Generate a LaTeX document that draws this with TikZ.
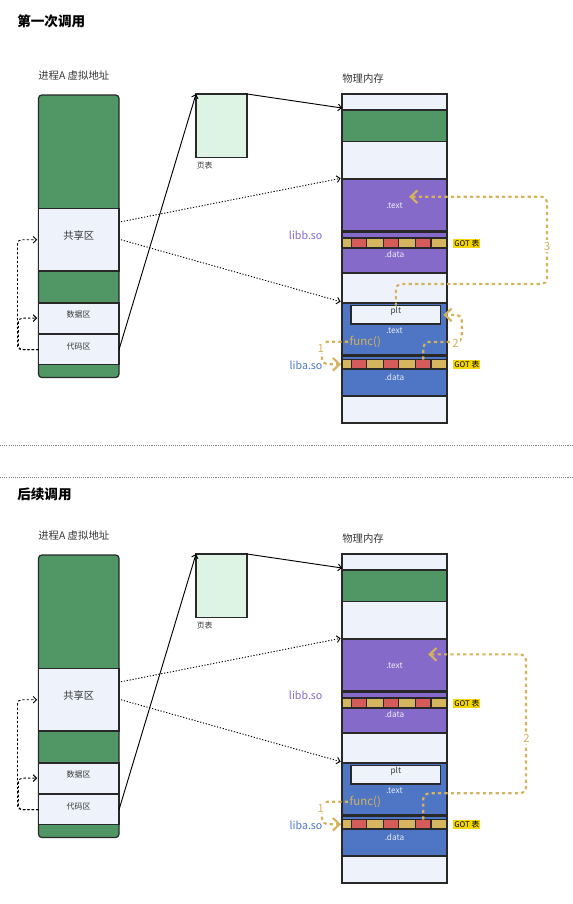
\documentclass[tikz,border=0pt]{standalone}
\usepackage{fontspec}
\setmainfont{Noto Sans CJK SC}
\usetikzlibrary{arrows.meta,fit}
\definecolor{pgreen}{RGB}{80,151,101}
\definecolor{plight}{RGB}{238,243,251}
\definecolor{ppurple}{RGB}{134,106,201}
\definecolor{pblue}{RGB}{78,118,196}
\definecolor{gyel}{RGB}{213,182,94}
\definecolor{gred}{RGB}{214,92,92}
\definecolor{goldc}{RGB}{214,178,92}
\definecolor{gotbg}{RGB}{244,214,0}
\definecolor{ptab}{RGB}{221,244,228}
\definecolor{edgec}{RGB}{40,40,40}
\definecolor{txtg}{RGB}{55,55,55}
\definecolor{seclab}{RGB}{235,238,248}

\tikzset{
  seg/.style={draw=edgec, line width=0.9pt, inner sep=0pt, outer sep=0pt},
  plainlab/.style={inner sep=0pt, text=txtg},
  seclabel/.style={inner sep=0pt, text=seclab, font=\fontsize{6.2pt}{7pt}\selectfont},
  gotlab/.style={fill=gotbg, text=black, inner sep=0.8pt, font=\fontsize{5.8pt}{7pt}\selectfont, anchor=west},
  numlab/.style={fill=white, text=goldc, inner sep=1pt, font=\fontsize{8.5pt}{9pt}\selectfont},
  solidarrow/.style={draw=black, line width=0.7pt, -{Straight Barb[length=2.5pt,width=5pt]}},
  dotarrow/.style={draw=black, line width=0.7pt, dash pattern=on 0.9pt off 1.3pt, -{Straight Barb[length=2.5pt,width=5pt]}},
  dasharrow/.style={draw=black, line width=0.7pt, dash pattern=on 1.8pt off 1.5pt, rounded corners=3pt, -{Straight Barb[length=2.5pt,width=5pt]}, shorten >=1pt},
  goldarrow/.style={draw=goldc, line width=1.6pt, dash pattern=on 2.4pt off 2.4pt, rounded corners=4pt, -{Straight Barb[length=5pt,width=9.5pt,line width=1.6pt]}},
  sepline/.style={draw=gray, line width=0.6pt, dash pattern=on 0.8pt off 0.8pt},
}

\newcommand\gotrow[3]{%
  \foreach \xa/\xb/\cc/\ii in {342/351.5/gyel/1,351.5/366.3/gred/2,366.3/383.3/gyel/3,383.3/398.5/gred/4,398.5/415.5/gyel/5,415.5/431/gred/6,431/447/gyel/7}
    {\node[seg, fill=\cc, line width=0.8pt, fit={(\xa,#2)(\xb,#3)}] (#1c\ii) {};}
  \node[inner sep=0pt, fit={(342,#2)(447,#3)}] (#1) {};
}

\newcommand\CommonPart{%
  % virtual address column
  \node[plainlab, anchor=west, font=\fontsize{7.8pt}{9pt}\selectfont] (vtitle) at (38,76) {进程A 虚拟地址};
  \node[seg, fill=pgreen, rounded corners=2.5pt, fit={(38.5,95)(119,377.5)}] (vcol) {};
  \node[seg, fill=plight, text=txtg, font=\fontsize{7.7pt}{9pt}\selectfont, fit={(38.5,208.5)(119,271)}] (shared) {共享区};
  \node[seg, fill=plight, text=txtg, font=\fontsize{6pt}{7pt}\selectfont, fit={(38.5,303)(119,333.2)}] (datab) {数据区};
  \node[seg, fill=plight, text=txtg, font=\fontsize{6pt}{7pt}\selectfont, fit={(38.5,334.6)(119,364.8)}] (codeb) {代码区};
  % page table
  \node[seg, fill=ptab, fit={(196,94)(247,157.5)}] (ptab) {};
  \node[plainlab, anchor=west, font=\fontsize{5.9pt}{7pt}\selectfont] (ptlabel) at (196.5,165.5) {页表};
  % physical memory column
  \node[plainlab, anchor=west, font=\fontsize{7.8pt}{9pt}\selectfont] (ptitle) at (342,79) {物理内存};
  \node[seg, fill=plight, fit={(342,94)(447,423)}] (pcol) {};
  \node[seg, fill=pgreen, fit={(342,110)(447,141.5)}] (pgreen) {};
  \node[seg, fill=ppurple, fit={(342,179)(447,231)}] (btext) {};
  \node[seclabel] (btextl) at (394.5,206) {.text};
  \node[seg, fill=ppurple, fit={(342,232.6)(447,273)}] (bdata) {};
  \gotrow{bgot}{238}{248}
  \node[seclabel] (bdatal) at (394.5,254) {.data};
  \node[seg, fill=pblue, fit={(342,303)(447,354.4)}] (atext) {};
  \node[seg, fill=plight, line width=1pt, text=txtg, font=\fontsize{6.2pt}{7pt}\selectfont, fit={(351,305.7)(440.7,324)}] (plt) {plt};
  \node[seclabel] (atextl) at (394.5,330.5) {.text};
  \node[seg, fill=pblue, fit={(342,356)(447,396)}] (adata) {};
  \gotrow{agot}{359.5}{369}
  \node[seclabel] (adatal) at (394.5,377) {.data};
  % labels
  \node[gotlab] (bgotl) at (453,243.5) {GOT 表};
  \node[gotlab] (agotl) at (453,364.5) {GOT 表};
  \node[inner sep=0pt, anchor=east, text=ppurple, font=\fontsize{8pt}{9pt}\selectfont] (libb) at (322.7,235) {libb.so};
  % connectors
  \draw[solidarrow] (codeb.east) -- (ptab.north west);
  \draw[solidarrow] (ptab.north east) -- ([yshift=1.5pt]pgreen.north west);
  \draw[dotarrow] ([xshift=1.5pt,yshift=13.5pt]shared.east) -- ([xshift=-1pt,yshift=0.5pt]btext.north west);
  \draw[dotarrow] ([xshift=1.5pt]shared.east) -- ([xshift=-1pt,yshift=1pt]atext.north west);
  \draw[dasharrow] (codeb.west) -- ++(-21,0) |- (shared.west);
  \draw[dasharrow] (codeb.west) -- ++(-20,0) |- (datab.west);
  % call 1
  \node[inner sep=1pt, anchor=west, text=goldc, font=\fontsize{8.6pt}{9pt}\selectfont] (func) at (348,341.7) {func()};
  \draw[goldarrow] (func.west) -- ++(-26,0) |- ([xshift=-0.5pt]agot.west);
  \node[numlab] (n1) at (320.7,348) {1};
  \node[inner sep=0pt, anchor=east, text=pblue, font=\fontsize{8pt}{9pt}\selectfont] (liba) at (322.7,365) {liba.so};
}

\begin{document}
\begin{tikzpicture}[x=0.75pt,y=-0.75pt]
  \useasboundingbox (0,0) rectangle (573,904);
  \node[anchor=west, inner sep=0pt, text=black, font=\fontsize{10.2pt}{12pt}\selectfont\bfseries] (title1) at (17,21) {第一次调用};
  \node[anchor=west, inner sep=0pt, text=black, font=\fontsize{10.2pt}{12pt}\selectfont\bfseries] (title2) at (17,494) {后续调用};
  \coordinate (s1l) at (0,445); \coordinate (s1r) at (573,445);
  \coordinate (s2l) at (0,477); \coordinate (s2r) at (573,477);
  \draw[sepline] (s1l) -- (s1r);
  \draw[sepline] (s2l) -- (s2r);

  \begin{scope}[name prefix=t-]
    \CommonPart
    % call 2: GOT -> plt
    \draw[goldarrow] (agotc6.north) |- (461.7,342) |- ([xshift=2pt]plt.east);
    \node[numlab] (n2) at (455.5,343) {2};
    % call 3: plt -> libb .text
    \draw[goldarrow] (plt.north) |- (547,284) |- ([xshift=11pt,yshift=6.2pt]btext.center);
    \node[numlab] (n3) at (547,246) {3};
  \end{scope}

  \begin{scope}[yshift=-345pt, name prefix=b-]
    \CommonPart
    % call 2: GOT -> libb .text directly
    \draw[goldarrow] (agotc6.north) |- (526,333.3) |- ([xshift=25.3pt,yshift=8pt]btext.center);
    \node[numlab] (n2) at (526.5,278.3) {2};
  \end{scope}
\end{tikzpicture}
\end{document}
